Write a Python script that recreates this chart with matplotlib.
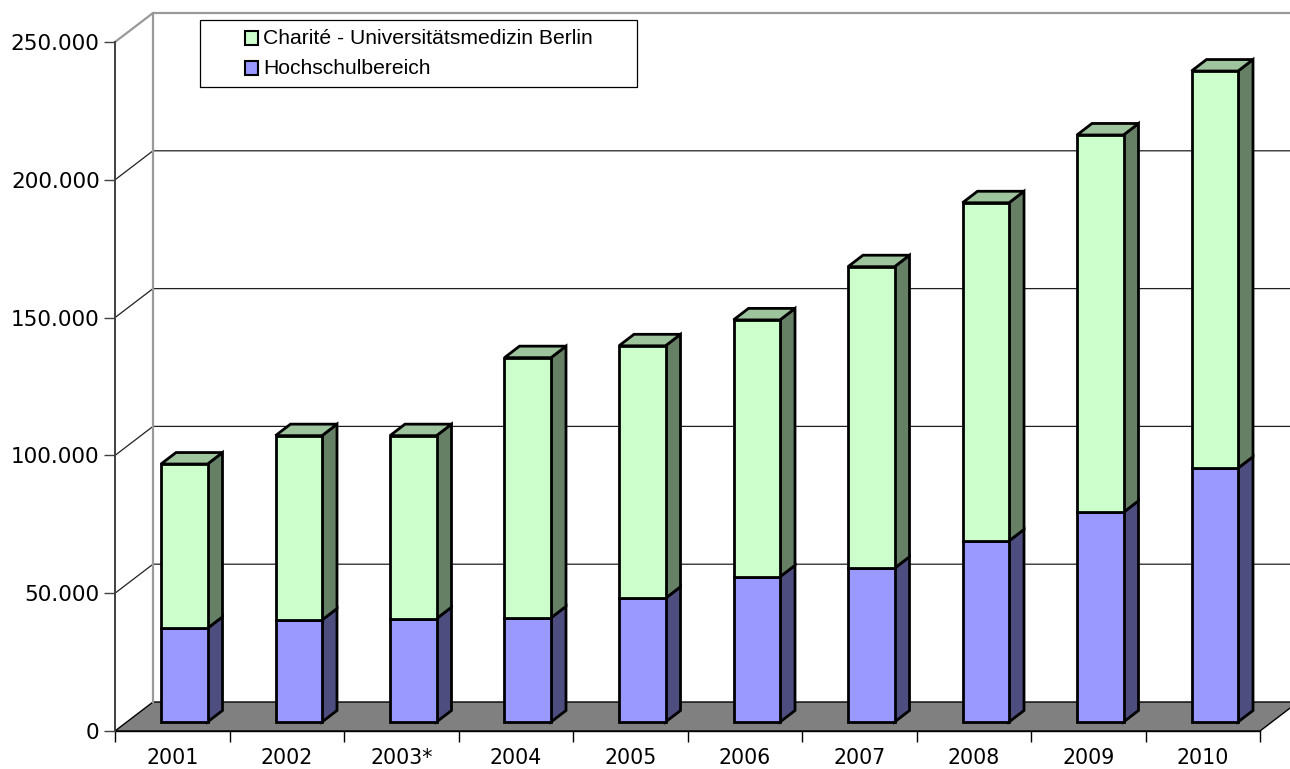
import matplotlib
matplotlib.use('Agg')
import matplotlib.pyplot as plt
from matplotlib.patches import Polygon, Rectangle
from matplotlib.ticker import FixedLocator, FuncFormatter
import numpy as np

# ---------------- data ----------------
years = ['2001', '2002', '2003*', '2004', '2005', '2006', '2007', '2008', '2009', '2010']
hochschul = [34000, 37000, 37500, 37800, 44900, 52700, 55800, 65700, 76100, 92100]
charite = [59600, 66900, 66400, 94400, 91600, 93200, 109400, 122700, 136900, 144100]
y_ticks = [0, 50000, 100000, 150000, 200000, 250000]
series_names = ['Charité - Universitätsmedizin Berlin', 'Hochschulbereich']

# ---------------- style ----------------
c_green_front, c_green_side, c_green_top = '#CCFFCC', '#668066', '#9DC49D'
c_blue_front, c_blue_side = '#9999FF', '#4D4D80'
floor_col = '#808080'
wall_col = '#999999'

W, H = 1290, 769
fig = plt.figure(figsize=(W / 100, H / 100), dpi=100)
ax_left, ax_bottom, ax_w, ax_h = 115, 731, 1145, 689
ax = fig.add_axes([ax_left / W, (H - ax_bottom) / H, ax_w / W, ax_h / H])
ax.set_facecolor('none')

n = len(years)
ymax = 250000
ax.set_xlim(-0.5, n - 0.5)
ax.set_ylim(0, ymax)

def off(px, py):
    """pixel offset -> data offset"""
    return px * n / ax_w, py * ymax / ax_h

bdx, bdy = off(38, 29)      # back wall offset
sdx, sdy = off(12, 9)       # bar front face depth offset
ddx, ddy = off(15, 11.5)    # bar depth
bw = 46.5 / 114.5           # bar width in category units

# floor
floor = Polygon([(-0.5, 0), (-0.5 + bdx, bdy), (n - 0.5 + bdx, bdy), (n - 0.5, 0)],
                closed=True, fc=floor_col, ec='black', lw=1, clip_on=False, zorder=1)
ax.add_patch(floor)

# gridlines (side-wall diagonal + back wall)
for v in y_ticks[1:-1]:
    ax.plot([-0.5, -0.5 + bdx, n - 0.5 + bdx], [v, v + bdy, v + bdy],
            color='#202020', lw=0.9, clip_on=False, zorder=1.5)
# top edge and back wall left edge
ax.plot([-0.5, -0.5 + bdx, n - 0.5 + bdx], [ymax, ymax + bdy, ymax + bdy],
        color=wall_col, lw=1.6, clip_on=False, zorder=1.6)
ax.plot([-0.5 + bdx, -0.5 + bdx], [bdy, ymax + bdy],
        color=wall_col, lw=1.6, clip_on=False, zorder=1.6)

x = np.arange(n)
hoch = np.array(hochschul, dtype=float)
char = np.array(charite, dtype=float)

# side and top faces
for i in range(n):
    xl = x[i] + sdx - bw / 2
    xr = x[i] + sdx + bw / 2
    b0 = sdy
    b1 = sdy + hoch[i]
    b2 = b1 + char[i]
    for lo, hi, col in [(b0, b1, c_blue_side), (b1, b2, c_green_side)]:
        ax.add_patch(Polygon([(xr, lo), (xr + ddx, lo + ddy), (xr + ddx, hi + ddy), (xr, hi)],
                             closed=True, fc=col, ec='black', lw=2, zorder=3, clip_on=False))
    ax.add_patch(Polygon([(xl, b2), (xl + ddx, b2 + ddy), (xr + ddx, b2 + ddy), (xr, b2)],
                         closed=True, fc=c_green_top, ec='black', lw=2, zorder=3, clip_on=False))

# front faces
ax.bar(x + sdx, hoch, width=bw, bottom=sdy, color=c_blue_front, edgecolor='black',
       linewidth=2, zorder=4, clip_on=False)
ax.bar(x + sdx, char, width=bw, bottom=sdy + hoch, color=c_green_front, edgecolor='black',
       linewidth=2, zorder=4, clip_on=False)

# axes styling
for s in ['top', 'right']:
    ax.spines[s].set_visible(False)
ax.spines['left'].set_color('#404040')
ax.spines['left'].set_linewidth(1.4)
ax.spines['bottom'].set_color('black')
ax.spines['bottom'].set_linewidth(1.0)
ax.spines['bottom'].set_zorder(2)

ax.set_yticks(y_ticks)
ax.yaxis.set_major_formatter(FuncFormatter(lambda v, p: f'{int(v):,}'.replace(',', '.')))
ax.tick_params(axis='y', direction='out', length=8, width=1, color='#404040', pad=3,
               labelsize=15.5, labelcolor='black')

ax.set_xticks(x)
ax.set_xticklabels(years)
ax.xaxis.set_minor_locator(FixedLocator(np.arange(-0.5, n, 1.0)))
ax.tick_params(axis='x', which='major', length=0, pad=12.5, labelsize=14.8)
ax.tick_params(axis='x', which='minor', direction='out', length=8, width=1, color='black')

for lbl in ax.get_xticklabels() + ax.get_yticklabels():
    lbl.set_fontfamily('DejaVu Sans')

# legend (manual box)
def fx(px):
    return px / W

def fy(py):
    return 1 - py / H

fig.patches.append(Rectangle((fx(200), fy(87)), fx(637) - fx(200), fy(20) - fy(87),
                             transform=fig.transFigure, fc='white', ec='black', lw=0.9, zorder=5))
leg_cols = [c_green_front, c_blue_front]
for k, (name, col) in enumerate(zip(series_names, leg_cols)):
    cy = 38 + 30 * k
    fig.patches.append(Rectangle((fx(245), fy(cy + 6.5)), 13 / W, 13 / H,
                                 transform=fig.transFigure, fc=col, ec='black', lw=1.5, zorder=6))
    fig.text(fx(263), fy(cy), name, fontsize=15.2, family='Liberation Sans',
             va='center', ha='left', zorder=6)

fig.savefig('out.png', dpi=100)
